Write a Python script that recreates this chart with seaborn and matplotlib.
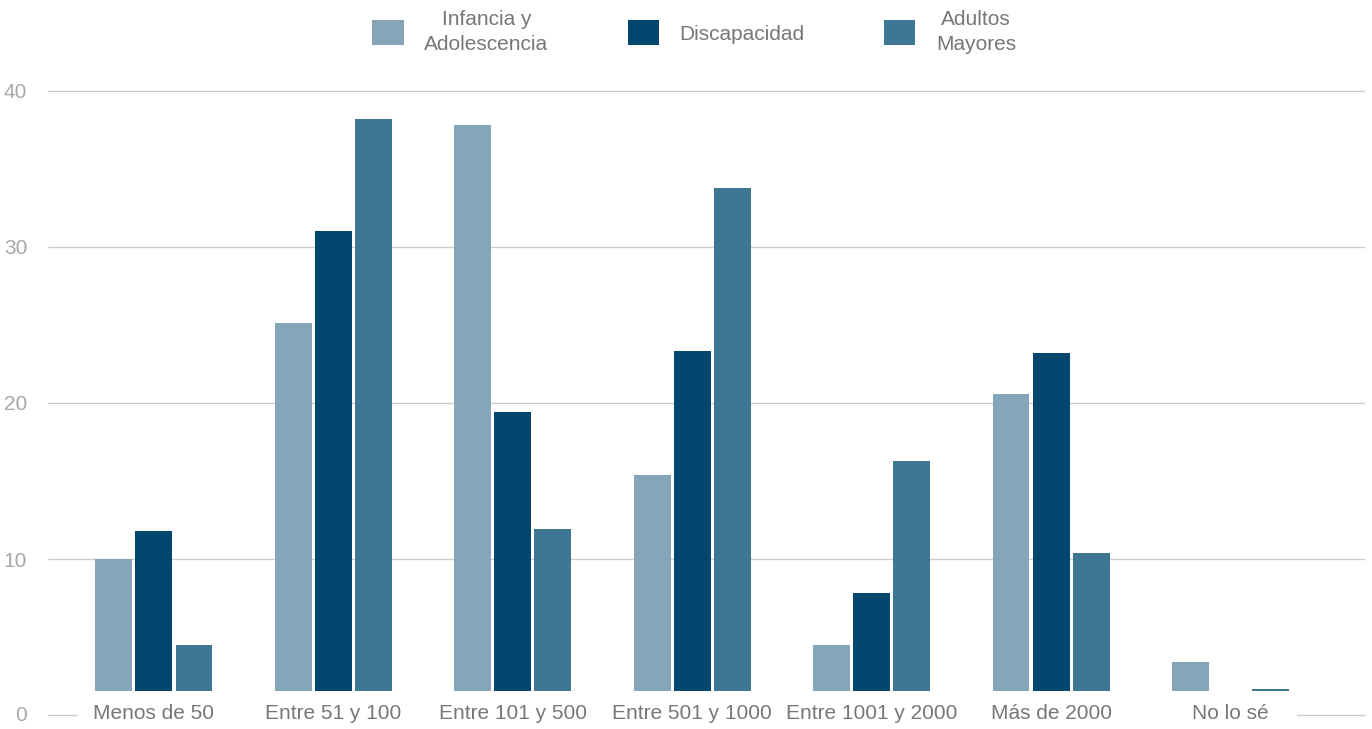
import matplotlib.pyplot as plt
import seaborn as sns
import pandas as pd

# values
categories = ['Menos de 50', 'Entre 51 y 100', 'Entre 101 y 500', 'Entre 501 y 1000',
              'Entre 1001 y 2000', 'Más de 2000', 'No lo sé']
series_names = ['Infancia y\nAdolescencia', 'Discapacidad', 'Adultos\nMayores']
infancia = [10.0, 25.1, 37.8, 15.4, 4.5, 20.6, 3.4]
discapacidad = [11.8, 31.0, 19.4, 23.3, 7.8, 23.2, 0.0]
adultos = [4.5, 38.2, 11.9, 33.8, 16.3, 10.4, 1.7]
y_ticks = [10, 20, 30, 40]

df = pd.DataFrame({
    'categoria': categories * 3,
    'grupo': [series_names[0]] * 7 + [series_names[1]] * 7 + [series_names[2]] * 7,
    'valor': infancia + discapacidad + adultos,
})

colors = dict(zip(series_names, ['#84a6b8', '#03466e', '#3d7793']))

sns.set_style('white')
plt.rcParams['font.family'] = ['Liberation Sans', 'DejaVu Sans']

fig = plt.figure(figsize=(13.72, 7.29), dpi=100)
ax = fig.add_axes([0.035, 0.052, 0.96, 0.845])

sns.barplot(data=df, x='categoria', y='valor', hue='grupo', hue_order=series_names,
            palette=colors, saturation=1, width=0.67, gap=0.08, linewidth=0, ax=ax)

ax.set_xlim(-0.59, 6.75)
ax.set_ylim(1.55, 41)
ax.set_yticks(y_ticks)
ax.grid(axis='y', color='#cccccc', linewidth=1)
ax.grid(axis='x', visible=False)
ax.set_axisbelow(True)
sns.despine(ax=ax, left=True, bottom=True)
ax.set_xlabel('')
ax.set_ylabel('')

ax.tick_params(axis='y', length=0, pad=15, labelsize=15, labelcolor='#a8a8a8')
ax.tick_params(axis='x', length=0, pad=16, labelsize=15, labelcolor='#777777')
for lbl in ax.get_xticklabels():
    lbl.set_va('center')

# zero label and baseline stubs sit below the visible bar baseline
ytr = ax.get_yaxis_transform()
ax.annotate('0', xy=(0, 0), xycoords=ytr, xytext=(-15, 0), textcoords='offset points',
            ha='right', va='center', fontsize=15, color='#a8a8a8', annotation_clip=False)
ax.plot([0, 0.022], [0, 0], transform=ytr, color='#cccccc', lw=1, clip_on=False)
ax.plot([0.948, 1.0], [0, 0], transform=ytr, color='#cccccc', lw=1, clip_on=False)

sns.move_legend(ax, 'upper center', bbox_to_anchor=(0.506, 1.012),
                bbox_transform=fig.transFigure, ncol=3, frameon=False, title=None,
                fontsize=15, handlelength=1.5, handleheight=1.5,
                handletextpad=1.0, columnspacing=3.8, labelcolor='#777777')
for t in ax.get_legend().get_texts():
    t.set_multialignment('center')
    t.set_linespacing(1.4)

fig.savefig('out.png', dpi=100)
